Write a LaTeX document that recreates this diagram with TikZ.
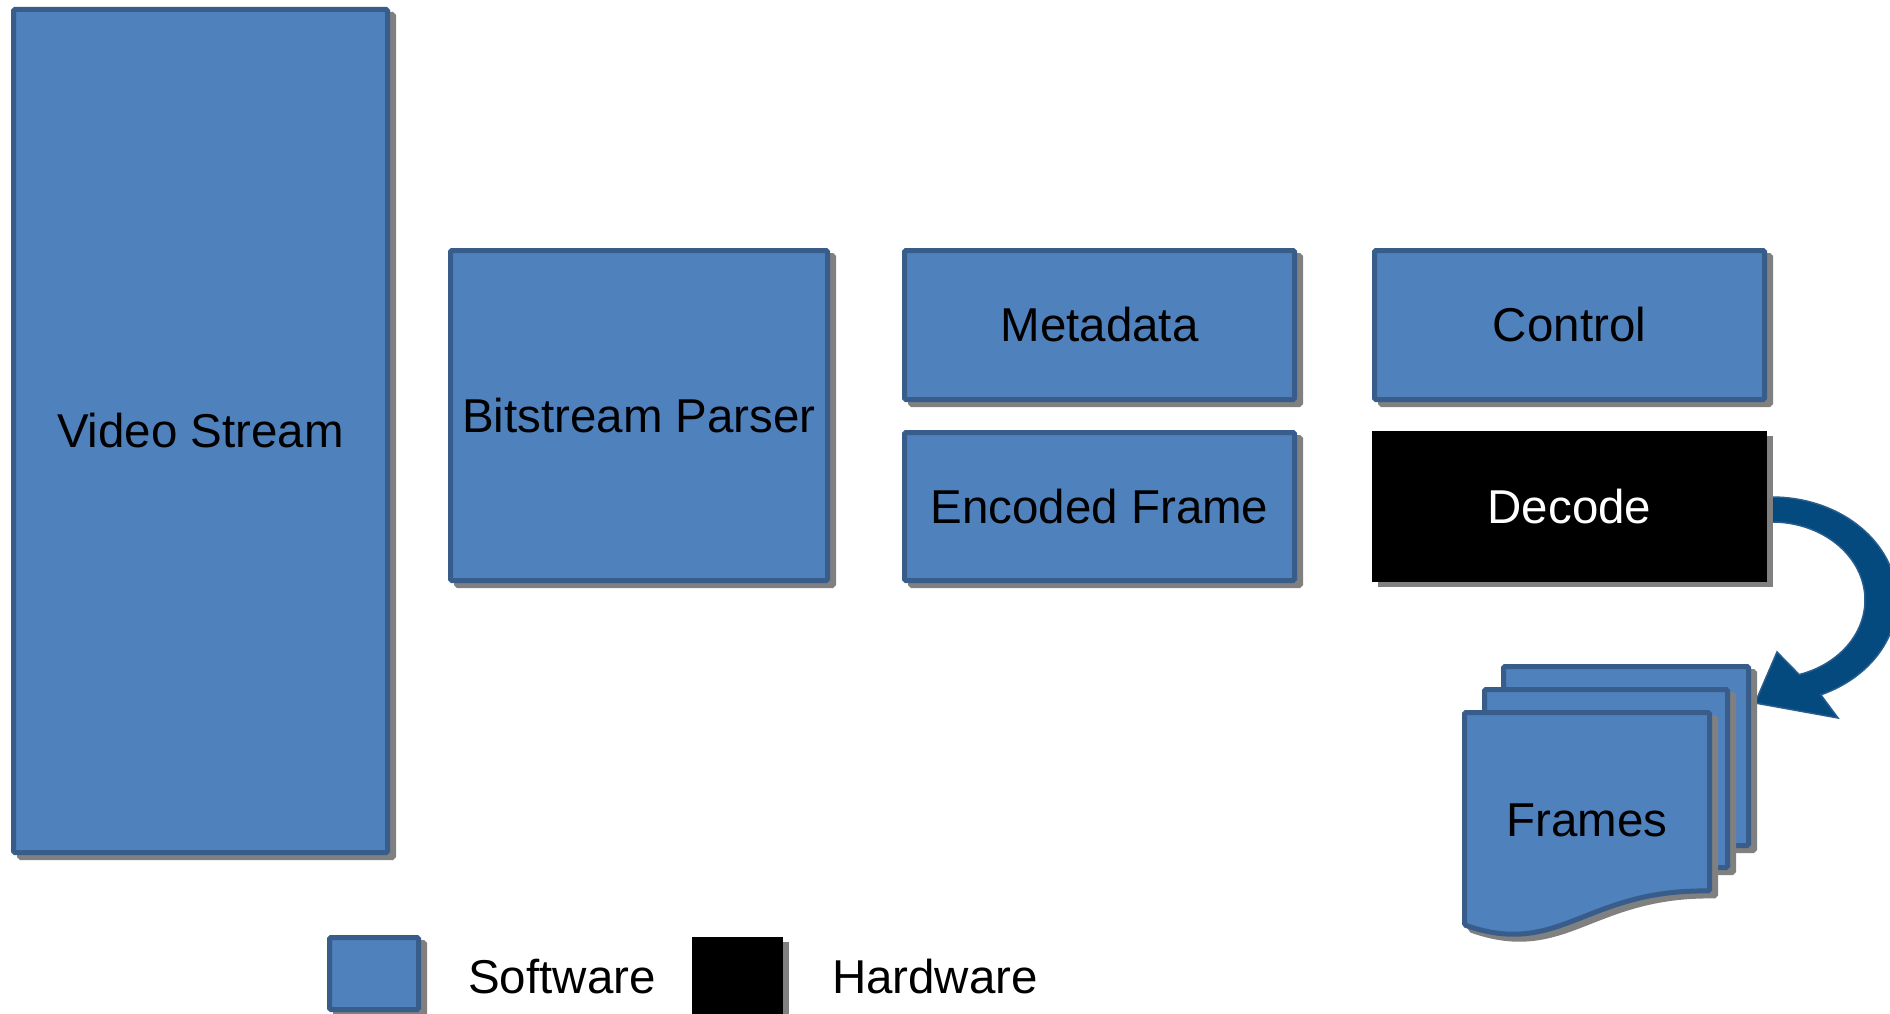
\documentclass[tikz,border=0pt]{standalone}
\usepackage{fontspec}
\setmainfont{Liberation Sans}
\usetikzlibrary{shadows}
\definecolor{swfill}{RGB}{79,129,189}
\definecolor{swline}{RGB}{56,93,138}
\definecolor{shadowgray}{RGB}{128,128,128}
\definecolor{arrowblue}{RGB}{5,74,126}
\definecolor{arrowline}{RGB}{38,92,142}
\begin{document}
\begin{tikzpicture}[x=1pt,y=-1pt,
  lbl/.style={font=\fontsize{47.5}{57}\selectfont},
  shad/.style={drop shadow={shadow xshift=6pt, shadow yshift=-5pt, fill=shadowgray, draw=shadowgray, line width=5pt, opacity=1}},
  swbox/.style={draw=swline, fill=swfill, line width=5pt, rounded corners=1.5pt, inner sep=0pt, outer sep=0pt, lbl, shad},
  hwbox/.style={draw=black, fill=black, line width=1pt, inner sep=0pt, outer sep=0pt, lbl, text=white,
    drop shadow={shadow xshift=6pt, shadow yshift=-5pt, fill=shadowgray, draw=shadowgray, line width=1pt, opacity=1}},
  page/.style={draw=swline, fill=swfill, line width=5pt, rounded corners=1.5pt},
  pageshadow/.style={draw=shadowgray, fill=shadowgray, line width=5pt, rounded corners=1.5pt},
  bigarrow/.style={fill=arrowblue, draw=arrowline, line width=1.5pt, line join=miter}
]
\useasboundingbox (0,0) rectangle (1890,1014);
\clip (0,0) rectangle (1890,1014);

% main boxes
\node[swbox, minimum width=374pt, minimum height=843pt] (video) at (200.5,431) {Video Stream};
\node[swbox, minimum width=377pt, minimum height=330pt] (parser) at (639,415.5) {Bitstream Parser};
\node[swbox, minimum width=390pt, minimum height=149pt] (meta) at (1099.5,325) {Metadata};
\node[swbox, minimum width=390pt, minimum height=148pt] (enc) at (1099.5,506.5) {Encoded Frame};
\node[swbox, minimum width=390pt, minimum height=149pt] (ctrl) at (1569.5,325) {Control};

% curved arrow from Decode to Frames
\coordinate (arrstart) at (1772,497);
\filldraw[bigarrow] (arrstart)
  -- plot[domain=-90:67, samples=60] ({1772+125*cos(\x)},{600+103*sin(\x)})
  -- (1838,718) -- (1755,703) -- (1777,652)
  -- plot[domain=73:-90, samples=60] ({1772+93*cos(\x)},{600+78*sin(\x)})
  -- cycle;

\node[hwbox, minimum width=394pt, minimum height=150pt] (decode) at (1569.5,506.5) {Decode};

% frames (stacked documents)
\node[page, shad, minimum width=245pt, minimum height=179pt, inner sep=0pt] (pageback) at (1626,756) {};
\node[page, shad, minimum width=243pt, minimum height=178pt, inner sep=0pt] (pagemid) at (1606,778.5) {};
\def\frontpage{(1464.5,712.5) -- (1709.5,712.5) -- (1709.5,891) .. controls (1585,889) and (1560,958) .. (1464.5,925) -- cycle}
\begin{scope}[shift={(6,5)}]
  \filldraw[pageshadow] \frontpage;
\end{scope}
\filldraw[page] \frontpage;
\node[lbl] (frames) at (1587,820) {Frames};

% legend
\node[swbox, minimum width=89pt, minimum height=72pt] (legsw) at (374,973.5) {};
\node[lbl, anchor=base] (legswtext) at (562,993) {Software};
\node[hwbox, minimum width=90pt, minimum height=77pt] (leghw) at (737.5,976) {};
\node[lbl, anchor=base] (leghwtext) at (935,993) {Hardware};
\end{tikzpicture}
\end{document}
